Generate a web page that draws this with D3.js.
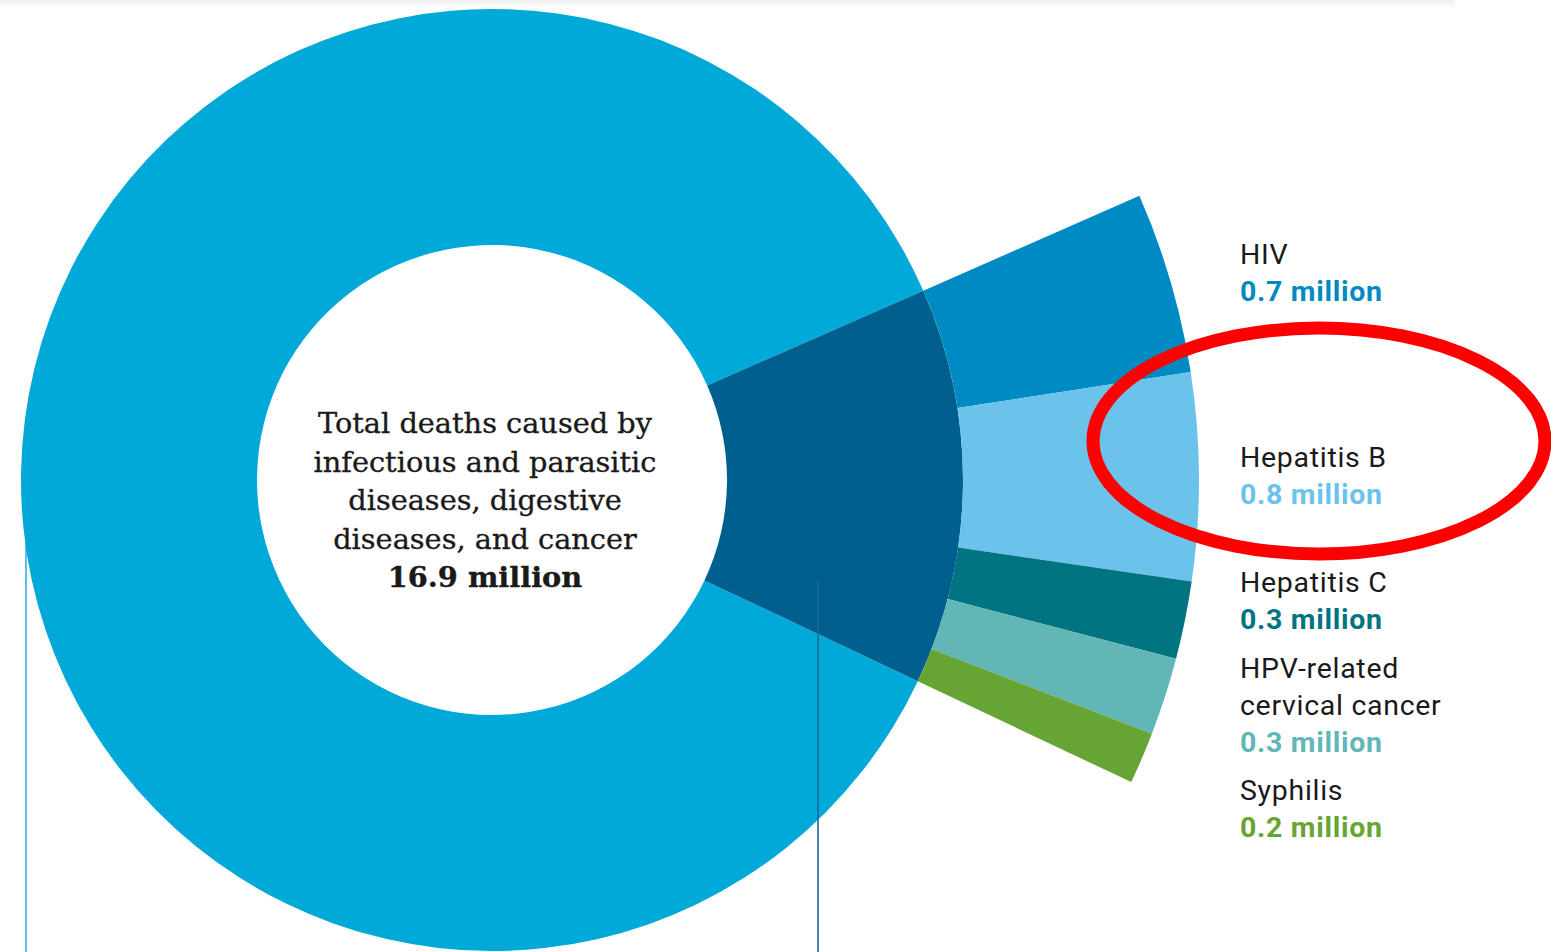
<!DOCTYPE html>
<html>
<head>
<meta charset="utf-8">
<script src="https://cdn.jsdelivr.net/npm/d3@7"></script>
<style>
    body { margin: 0; background: #fff; }
    svg { display: block; }
    .causeName { font-family: Roboto, "Noto Sans", sans-serif; font-size: 28.5px; letter-spacing: 0.7px; fill: #1a1a1a; }
    .causeValue { font-family: Roboto, "Noto Sans", sans-serif; font-size: 28.5px; letter-spacing: 0.7px; font-weight: bold; }
    .centerText { font-family: "DejaVu Serif", serif; font-size: 28.8px; fill: #1a1a1a; stroke: #1a1a1a; stroke-width: 0.35px; }
</style>
</head>
<body>
<svg id="chart" width="1551" height="952"></svg>
<script>
/*
 Data
 */

var totalLabel = ["Total deaths caused by", "infectious and parasitic",
    "diseases, digestive", "diseases, and cancer"];
var totalValue = 16.9;
var totalValueText = "16.9 million";

var causeIds = ["hiv", "hepB", "hepC", "hpv", "syphilis"];
var causeNames = [["HIV"], ["Hepatitis B"], ["Hepatitis C"],
    ["HPV-related", "cervical cancer"], ["Syphilis"]];
var causeDeaths = [0.7, 0.8, 0.3, 0.3, 0.2];
var causeValueText = ["0.7 million", "0.8 million", "0.3 million", "0.3 million", "0.2 million"];

/*
 Layout / style
 */

var VAR_CX = 492;
var VAR_CY = 480;
var VAR_R_INNER = 235;
var VAR_R_MID = 471;
var VAR_R_OUTER = 707;
var VAR_START_ANGLE = 66.3 * Math.PI / 180;

var VAR_COLOR_RING = '#00a9d7';
var VAR_COLOR_GROUP = '#005f8f';
var VAR_CAUSE_COLORS = ['#008ac3', '#6bc2eb', '#007480', '#62b6b5', '#66a533'];

var VAR_LABEL_X = 1240;
var VAR_LABEL_Y = [264, 467, 592, 678, 800];
var VAR_LINE_H = 37;

var svg = d3.select('#chart');

// faint band along the top
var grad = svg.append('defs').append('linearGradient')
    .attr('id', 'topShade')
    .attr('x1', 0).attr('x2', 0).attr('y1', 0).attr('y2', 1);
grad.append('stop').attr('offset', '0%').attr('stop-color', '#efefef');
grad.append('stop').attr('offset', '100%').attr('stop-color', '#ffffff');
svg.append('rect')
    .attr('x', 0).attr('y', 0)
    .attr('width', 1455).attr('height', 8)
    .attr('fill', 'url(#topShade)');

var angle = d3.scaleLinear()
    .domain([0, totalValue])
    .range([VAR_START_ANGLE, VAR_START_ANGLE + 2 * Math.PI]);

var groupSum = d3.sum(causeDeaths);

// left guide line sits behind the ring
svg.append('line')
    .attr('x1', 26).attr('x2', 26)
    .attr('y1', VAR_CY).attr('y2', 952)
    .attr('stroke', '#5cc0e8')
    .attr('stroke-width', 2);

var g = svg.append('g')
    .attr('transform', 'translate(' + VAR_CX + ',' + VAR_CY + ')');

var ringArc = d3.arc().innerRadius(VAR_R_INNER).outerRadius(VAR_R_MID);

// the rest of the total
g.append('path')
    .attr('d', ringArc({startAngle: angle(groupSum), endAngle: angle(totalValue)}))
    .attr('fill', VAR_COLOR_RING);

// right guide line, over the ring
svg.append('line')
    .attr('x1', 818).attr('x2', 818)
    .attr('y1', VAR_CY + 100).attr('y2', 952)
    .attr('stroke', '#16689a')
    .attr('stroke-width', 1.6);

// share of the listed causes
g.append('path')
    .attr('d', ringArc({startAngle: angle(0), endAngle: angle(groupSum)}))
    .attr('fill', VAR_COLOR_GROUP);

/*
 Fan of causes
 */

var fanArc = d3.arc().innerRadius(VAR_R_MID).outerRadius(VAR_R_OUTER);
var cum = 0;
var fanData = causeDeaths.map(function (v, i) {
    var d = {id: causeIds[i], startAngle: angle(cum), endAngle: angle(cum + v), i: i};
    cum += v;
    return d;
});

g.selectAll('.fan')
    .data(fanData, function (d) {
        return d.id;
    })
    .enter().append('path')
    .classed('fan', true)
    .attr('d', fanArc)
    .attr('fill', function (d) {
        return VAR_CAUSE_COLORS[d.i];
    });

/*
 Labels
 */

var labels = svg.selectAll('.causeLabel')
    .data(causeIds)
    .enter().append('text')
    .classed('causeLabel', true)
    .attr('x', VAR_LABEL_X)
    .attr('y', function (d, i) {
        return VAR_LABEL_Y[i];
    });

labels.each(function (d, i) {
    var t = d3.select(this);
    causeNames[i].forEach(function (line, j) {
        t.append('tspan')
            .classed('causeName', true)
            .attr('x', VAR_LABEL_X)
            .attr('dy', j === 0 ? 0 : VAR_LINE_H)
            .text(line);
    });
    t.append('tspan')
        .classed('causeValue', true)
        .attr('x', VAR_LABEL_X)
        .attr('dy', VAR_LINE_H)
        .attr('fill', VAR_CAUSE_COLORS[i])
        .text(causeValueText[i]);
});

/*
 Center text
 */

var center = svg.append('text')
    .classed('centerText', true)
    .attr('text-anchor', 'middle')
    .attr('y', 433);

totalLabel.forEach(function (line, j) {
    center.append('tspan')
        .attr('x', 485)
        .attr('dy', j === 0 ? 0 : 38.5)
        .text(line);
});
center.append('tspan')
    .attr('x', 485)
    .attr('dy', 38.5)
    .attr('font-weight', 'bold')
    .text(totalValueText);

// highlight ring around Hepatitis B
svg.append('ellipse')
    .attr('cx', 1319)
    .attr('cy', 441)
    .attr('rx', 226)
    .attr('ry', 113)
    .attr('fill', 'none')
    .attr('stroke', '#ff0000')
    .attr('stroke-width', 13);
</script>
</body>
</html>
